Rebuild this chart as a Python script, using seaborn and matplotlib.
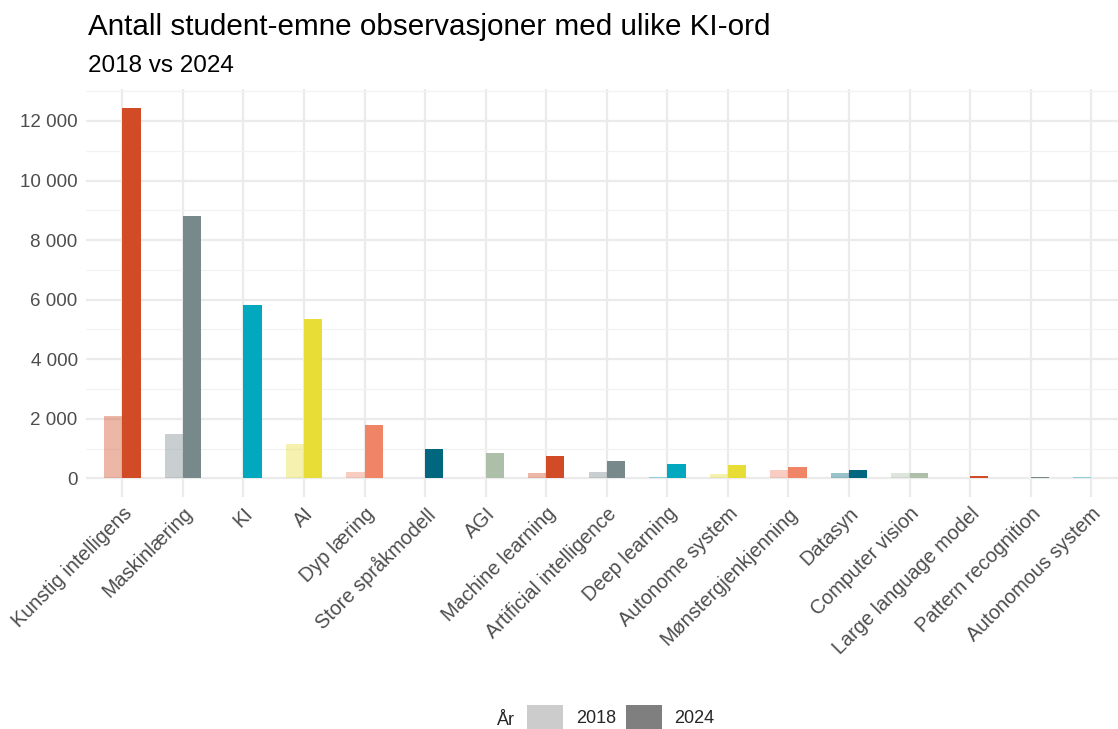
import numpy as np
import pandas as pd
import matplotlib
matplotlib.use("Agg")
import matplotlib.pyplot as plt
import seaborn as sns
from matplotlib.patches import Patch
from matplotlib.ticker import FuncFormatter, MultipleLocator

# --- data ---
ord_ = ["Kunstig intelligens", "Maskinlæring", "KI", "AI", "Dyp læring",
        "Store språkmodell", "AGI", "Machine learning", "Artificial intelligence",
        "Deep learning", "Autonome system", "Mønstergjenkjenning", "Datasyn",
        "Computer vision", "Large language model", "Pattern recognition",
        "Autonomous system"]
n_2018 = [2100, 1500, 30, 1150, 210, 0, 0, 180, 210, 40, 160, 270, 190, 190, 0, 0, 60]
n_2024 = [12450, 8800, 5820, 5350, 1800, 1000, 850, 770, 590, 470, 445, 370, 300,
          190, 70, 35, 10]
years = ["2018", "2024"]

palette = ["#D24B27", "#78898C", "#02A9BE", "#E8DC36", "#F08467", "#00677E", "#AEBFA9"]

df = pd.concat([
    pd.DataFrame({"ord": ord_, "n": n_2018, "aar": "2018"}),
    pd.DataFrame({"ord": ord_, "n": n_2024, "aar": "2024"}),
], ignore_index=True)

sns.set_theme(style="whitegrid")
plt.rcParams["font.family"] = ["Liberation Sans", "DejaVu Sans"]

W, H = 1118, 729
fig = plt.figure(figsize=(W / 100, H / 100), dpi=100)
step = 60.56
ax = fig.add_axes([86 / W, 1 - 497 / H, 17.2 * step / W, (497 - 89) / H])

sns.barplot(data=df, x="ord", y="n", hue="aar", hue_order=years, order=ord_,
            width=0.6, dodge=True, legend=False, ax=ax, linewidth=0)

# colour each bar by its category (from x position), 2018 bars faded
for bar in ax.patches:
    xc = bar.get_x() + bar.get_width() / 2
    i = int(round(xc))
    bar.set_facecolor(palette[i % len(palette)])
    bar.set_alpha(0.4 if xc < i else 1.0)
    bar.set_edgecolor("none")

ax.set_xlim(-0.6, len(ord_) - 0.4)
ax.set_ylim(-622, 13072)
ax.yaxis.set_major_locator(MultipleLocator(2000))
ax.yaxis.set_minor_locator(MultipleLocator(1000))
ax.yaxis.set_major_formatter(FuncFormatter(lambda v, p: f"{int(v):,}".replace(",", " ")))

ax.set_facecolor("white")
for s in ax.spines.values():
    s.set_visible(False)
ax.grid(which="major", color="#EBEBEB", linewidth=1.6)
ax.grid(which="minor", axis="y", color="#F2F2F2", linewidth=0.9)
ax.grid(which="minor", axis="x", visible=False)
ax.set_axisbelow(True)
ax.tick_params(axis="both", which="both", length=0, colors="#4D4D4D")
ax.tick_params(axis="y", pad=6, labelsize=13.5)
ax.tick_params(axis="x", pad=5, labelsize=14.3)
plt.setp(ax.get_xticklabels(), rotation=45, ha="right", va="top", rotation_mode="anchor")
ax.set_xlabel("")
ax.set_ylabel("")

fig.text(88 / W, 1 - 35 / H, "Antall student-emne observasjoner med ulike KI-ord",
         fontsize=21.3, color="black", ha="left", va="baseline")
fig.text(88 / W, 1 - 72 / H, "2018 vs 2024", fontsize=17.5, color="black",
         ha="left", va="baseline")

handles = [Patch(facecolor="#CCCCCC", edgecolor="none"),
           Patch(facecolor="#7F7F7F", edgecolor="none")]
fig.text(497 / W, 1 - 725 / H, "År", fontsize=13, ha="left", va="baseline")
fig.legend(handles, years, loc="center left", bbox_to_anchor=(527 / W, 1 - 717.5 / H),
           ncol=2, frameon=False, fontsize=13, handlelength=2.0, handleheight=1.75,
           handletextpad=0.7, columnspacing=0.55, borderaxespad=0, borderpad=0)

fig.savefig("out.png", dpi=100, facecolor="white")
